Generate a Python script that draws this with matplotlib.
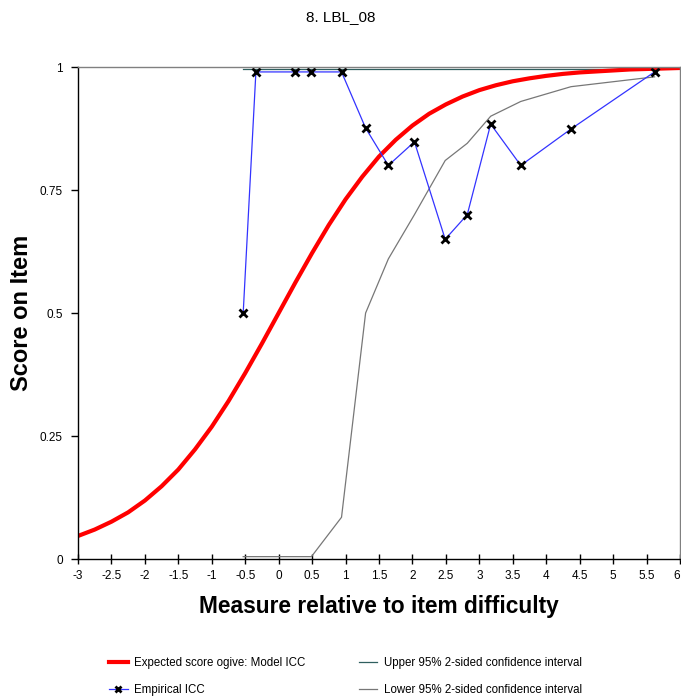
import matplotlib
matplotlib.use("Agg")
import matplotlib.pyplot as plt
from matplotlib.lines import Line2D

plt.rcParams['font.family'] = ['Liberation Sans', 'DejaVu Sans']

# model ICC (expected score ogive), read at 0.25 steps
model_x = [-3, -2.75, -2.5, -2.25, -2, -1.75, -1.5, -1.25, -1, -0.75, -0.5, -0.25,
           0, 0.25, 0.5, 0.75, 1, 1.25, 1.5, 1.75, 2, 2.25, 2.5, 2.75, 3, 3.25,
           3.5, 3.75, 4, 4.25, 4.5, 4.75, 5, 5.25, 5.5, 5.75, 6]
model_y = [0.047, 0.060, 0.076, 0.095, 0.119, 0.148, 0.182, 0.223, 0.269, 0.321,
           0.378, 0.438, 0.500, 0.562, 0.622, 0.679, 0.731, 0.777, 0.818, 0.852,
           0.881, 0.905, 0.924, 0.940, 0.953, 0.963, 0.971, 0.977, 0.982, 0.986,
           0.989, 0.991, 0.993, 0.995, 0.996, 0.997, 0.998]

# empirical ICC
emp_x = [-0.53, -0.34, 0.25, 0.49, 0.94, 1.30, 1.64, 2.03, 2.49, 2.82, 3.17, 3.62, 4.37, 5.62]
emp_y = [0.50, 0.99, 0.99, 0.99, 0.99, 0.876, 0.80, 0.848, 0.65, 0.70, 0.884, 0.80, 0.874, 0.99]

# confidence intervals at the empirical points
upper_ci = [0.995, 0.995, 0.995, 0.995, 0.995, 0.995, 0.995, 0.995, 0.995, 0.995, 0.995, 0.995, 0.995, 0.995]
lower_ci = [0.005, 0.005, 0.005, 0.005, 0.085, 0.50, 0.61, 0.70, 0.81, 0.845, 0.90, 0.93, 0.96, 0.98]

x_ticks = [-3, -2.5, -2, -1.5, -1, -0.5, 0, 0.5, 1, 1.5, 2, 2.5, 3, 3.5, 4, 4.5, 5, 5.5, 6]
x_labels = ['-3', '-2.5', '-2', '-1.5', '-1', '-0.5', '0', '0.5', '1', '1.5',
            '2', '2.5', '3', '3.5', '4', '4.5', '5', '5.5', '6']
y_ticks = [0, 0.25, 0.5, 0.75, 1]
y_labels = ['0', '0.25', '0.5', '0.75', '1']

fig = plt.figure(figsize=(6.81, 6.98), dpi=100)
ax = fig.add_axes([0.1145, 0.199, 0.884, 0.705])

ax.plot(emp_x, upper_ci, color='#2f5f5f', lw=0.9)
ax.plot(emp_x, lower_ci, color='#777777', lw=0.9)
ax.plot(model_x, model_y, color='#ff0000', lw=3)
ax.plot(emp_x, emp_y, color='#3333ff', lw=0.9, marker='x', ms=6,
        mec='black', mew=2)

ax.set_xlim(-3, 6)
ax.set_ylim(0, 1)
ax.set_xticks(x_ticks)
ax.set_xticklabels(x_labels)
ax.get_xticklabels()[-1].set_ha('right')
ax.set_yticks(y_ticks)
ax.set_yticklabels(y_labels)
ax.tick_params(axis='x', direction='inout', length=7, width=1, labelsize=8.5, pad=4)
ax.tick_params(axis='y', direction='out', length=5, width=1, labelsize=8.5, pad=6)

ax.spines['top'].set_color('#808080')
ax.spines['right'].set_color('#808080')
ax.spines['left'].set_color('black')
ax.spines['bottom'].set_color('black')
for s in ax.spines.values():
    s.set_linewidth(1)

fig.text(0.5, 0.975, '8. LBL_08', ha='center', va='center', fontsize=11)
ax.set_xlabel('Measure relative to item difficulty', fontsize=16.4, fontweight='bold', labelpad=10)
ax.set_ylabel('Score on Item', fontsize=17, fontweight='bold')
ax.yaxis.set_label_coords(-0.074, 0.5)

handles = [
    Line2D([], [], color='#ff0000', lw=3),
    Line2D([], [], color='#3333ff', lw=0.9, marker='x', ms=5, mec='black', mew=2),
    Line2D([], [], color='#2f5f5f', lw=0.9),
    Line2D([], [], color='#777777', lw=0.9),
]
labels = ['Expected score ogive: Model ICC', 'Empirical ICC',
          'Upper 95% 2-sided confidence interval', 'Lower 95% 2-sided confidence interval']
fig.legend(handles, labels, loc='lower left', bbox_to_anchor=(0.145, -0.012), ncol=2,
           frameon=False, fontsize=8.3, handlelength=1.6, columnspacing=4.6,
           labelspacing=1.3, handletextpad=0.6)

fig.savefig('out.png', dpi=100)
